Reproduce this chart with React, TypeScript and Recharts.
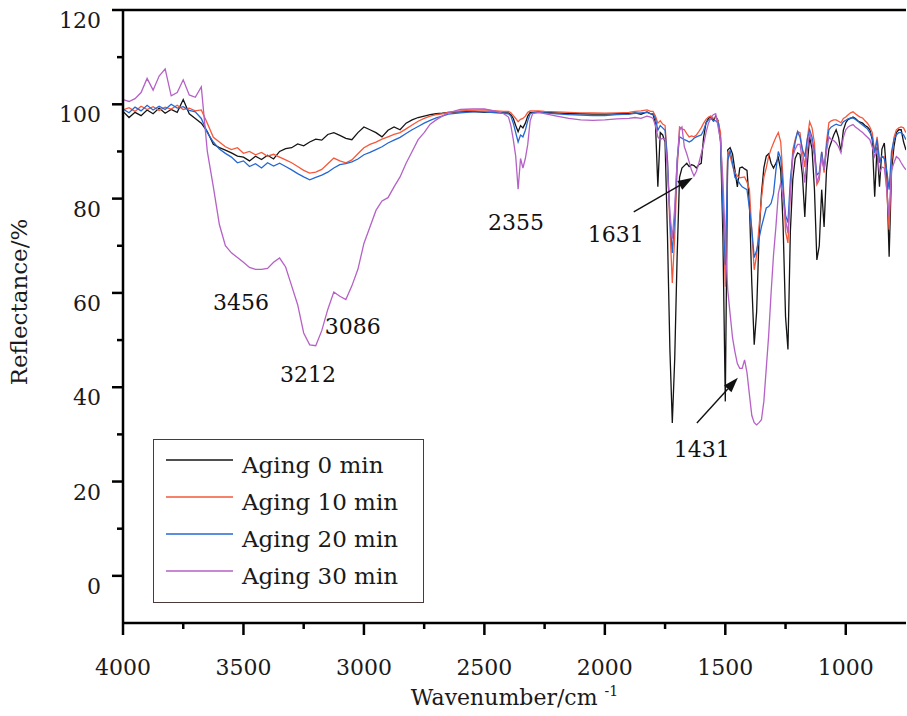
import React from 'react';
import {
  LineChart,
  Line,
  XAxis,
  YAxis,
  Legend,
  ReferenceLine,
  ReferenceDot,
} from 'recharts';

const FONT = "'DejaVu Serif', 'Liberation Serif', serif";

// wavenumber grid (cm-1)
const wavenumbers = [
  4000, 3975, 3950, 3925, 3900, 3875, 3850, 3825, 3800, 3775, 3750, 3725,
  3700, 3675, 3650, 3625, 3600, 3575, 3550, 3525, 3500, 3475, 3450, 3425,
  3400, 3375, 3350, 3325, 3300, 3275, 3250, 3225, 3200, 3175, 3150, 3125,
  3100, 3075, 3050, 3025, 3000, 2975, 2950, 2925, 2900, 2875, 2850, 2825,
  2800, 2775, 2750, 2725, 2700, 2675,
  2650, 2600, 2550, 2500, 2450, 2420,
  2400, 2390, 2380, 2370, 2360, 2350, 2340, 2330, 2320, 2310, 2300,
  2275, 2250, 2200, 2150, 2100, 2050, 2000, 1950, 1900, 1875, 1850, 1825, 1810,
  1800, 1790, 1780, 1770, 1760, 1750, 1740, 1730, 1720, 1710,
  1700, 1690, 1680, 1670, 1660, 1650, 1640, 1630, 1620, 1610,
  1600, 1590, 1580, 1570, 1560, 1550, 1540, 1530, 1520, 1510,
  1500, 1490, 1480, 1470, 1460, 1450, 1440, 1430, 1420, 1410,
  1400, 1390, 1380, 1370, 1360, 1350, 1340, 1330, 1320, 1310,
  1300, 1290, 1280, 1270, 1260, 1250, 1240, 1230, 1220, 1210,
  1200, 1190, 1180, 1170, 1160, 1150, 1140, 1130, 1120, 1110,
  1100, 1090, 1080, 1070, 1060, 1050, 1040, 1030, 1020, 1010,
  1000, 990, 980, 970, 960, 950, 940, 930, 920, 910,
  900, 890, 880, 870, 860, 850, 840, 830, 820, 810,
  800, 790, 780, 770, 760, 750,
];

// reflectance (%) per sample
const aging0 = [
  98.5, 97.2, 98.3, 97.6, 98.8, 98.0, 99.2, 98.1, 98.9, 98.3, 101.0, 98.0,
  97.0, 96.0, 94.2, 91.5, 90.8, 90.3, 89.7, 89.0, 88.8, 88.0, 89.0, 88.3,
  89.2, 88.4, 90.0, 90.6, 90.8, 91.6, 91.2, 92.0, 92.6, 92.4, 93.6, 94.0,
  93.4, 92.8, 92.5, 94.0, 95.2, 94.6, 94.0, 93.1, 94.5, 95.2, 94.6, 96.0,
  96.7, 97.2, 97.5, 97.8, 98.0, 98.1,
  98.3, 98.4, 98.5, 98.3, 98.4, 98.2,
  98.2, 97.8, 97.0, 95.5, 94.2, 95.5, 95.0, 96.0, 97.5, 98.3, 98.3,
  98.4, 98.3, 98.2, 98.0, 98.0, 97.9, 97.9, 98.0, 98.0, 98.2, 97.9, 98.4, 98.0,
  97.8, 96.0, 82.5, 94.0, 93.5, 92.0, 72.0, 48.0, 32.4, 46.0,
  67.7, 84.5, 86.5, 87.0, 87.5, 86.8, 87.2, 87.0, 86.5, 87.2,
  87.5, 93.0, 96.1, 97.0, 97.4, 96.5, 97.5, 96.5, 93.0, 72.0,
  37.0, 90.3, 90.8, 89.5, 86.0, 82.5, 86.5, 86.7, 86.3, 86.0,
  79.0, 62.0, 49.0, 56.0, 72.0, 81.0, 86.5, 89.0, 89.5, 87.5,
  86.5, 87.5, 88.7, 86.0, 74.0, 55.0, 48.0, 73.0, 84.0, 88.5,
  89.7, 89.4, 85.0, 76.1, 87.0, 93.1, 90.5, 82.0, 67.0, 70.0,
  81.9, 74.0, 86.0, 90.5, 92.0, 93.5, 94.6, 93.0, 89.9, 94.5,
  96.1, 96.8, 97.0, 97.3, 97.0, 96.5, 96.2, 96.0, 95.5, 95.2,
  94.6, 92.5, 80.4, 91.0, 82.5, 90.5, 91.8, 85.0, 67.7, 86.0,
  91.0, 94.0, 94.6, 94.6, 92.0, 90.3,
];

const aging10 = [
  98.8, 99.3, 98.5, 99.6, 98.9, 99.5, 98.7, 99.4, 99.0, 99.8, 98.9, 99.2,
  98.6, 98.8, 96.0, 93.0, 92.0, 91.0, 90.4, 90.8, 89.6, 90.0, 89.3, 89.8,
  89.0, 89.4, 88.8, 88.2, 87.6, 86.8, 86.0, 85.4, 85.6, 86.2, 87.4, 88.6,
  88.0, 87.6, 88.2, 89.5, 90.8, 91.5, 92.0, 92.6, 93.1, 93.6, 94.0, 94.8,
  95.6, 96.4, 97.0, 97.5, 97.8, 98.0,
  98.3, 98.6, 98.7, 98.8, 98.6, 98.5,
  98.5, 98.2, 97.6, 97.0, 96.3, 96.8, 97.0, 97.5, 98.3, 98.6, 98.6,
  98.6, 98.5, 98.4, 98.3, 98.2, 98.2, 98.1, 98.2, 98.3, 98.5, 98.6, 98.8, 98.5,
  98.5, 97.5, 96.0, 96.5, 95.8, 95.5, 88.0, 74.0, 62.1, 72.0,
  86.0, 95.2, 94.8, 94.6, 93.8, 93.1, 93.3, 93.1, 93.5, 94.2,
  95.0, 96.0, 96.8, 97.3, 97.5, 97.0, 97.3, 96.5, 94.0, 80.0,
  61.3, 90.0, 89.0, 87.0, 85.5, 84.8, 84.4, 84.5, 84.6, 83.5,
  82.0, 73.0, 64.9, 68.0, 74.0, 80.0, 84.5, 86.5, 89.0, 90.5,
  91.8, 93.0, 94.0, 92.0, 84.0, 73.0, 70.6, 82.0, 90.3, 92.5,
  94.2, 94.0, 90.0, 86.7, 92.5, 96.3, 95.0, 91.8, 83.0, 84.0,
  89.9, 85.5, 92.0, 96.1, 96.5, 96.7, 96.7, 96.4, 96.1, 97.0,
  97.3, 97.8, 98.2, 98.4, 98.0, 97.6, 97.3, 97.1, 96.5, 96.0,
  95.2, 94.0, 89.7, 93.1, 88.2, 88.9, 88.9, 82.0, 73.4, 88.0,
  93.0, 94.6, 95.0, 95.2, 95.0, 94.0,
];

const aging20 = [
  99.0, 98.2, 99.4, 98.6, 99.8, 98.8, 99.6, 98.9, 100.0, 99.2, 99.5, 98.7,
  98.4, 97.0, 94.0, 92.0, 90.5, 89.6, 88.8, 87.6, 88.0, 86.8, 87.4, 86.5,
  87.6, 86.9, 87.5, 86.8, 86.1, 85.3, 84.6, 84.0, 84.5, 85.0, 85.6, 86.5,
  87.2, 87.4, 87.8, 88.4, 89.3, 89.8, 90.4, 91.0, 91.8, 92.4, 93.0, 93.8,
  94.6, 95.3, 96.0, 96.6, 97.1, 97.5,
  97.9, 98.2, 98.4, 98.4, 98.2, 98.1,
  98.0, 97.5, 96.0, 94.0, 92.0, 93.5, 93.1, 94.5, 96.5, 98.0, 98.2,
  98.3, 98.2, 98.0, 97.8, 97.7, 97.6, 97.6, 97.8, 97.9, 98.1, 98.2, 98.3, 98.0,
  98.0, 97.0, 94.5, 95.5, 95.0, 94.5, 88.0, 76.0, 68.5, 76.0,
  88.0, 93.1, 92.8, 92.5, 92.3, 92.0, 92.3, 92.8, 93.1, 93.3,
  93.5, 94.5, 96.0, 96.7, 97.0, 96.6, 96.5, 96.1, 92.0, 78.0,
  66.0, 88.0, 90.3, 87.5, 84.5, 84.0, 83.2, 82.5, 82.2, 81.9,
  78.0, 73.4, 67.5, 69.0, 71.5, 74.0, 76.0, 78.0, 78.3, 79.0,
  81.0, 86.0, 90.0, 88.5, 82.0, 76.5, 74.9, 84.0, 88.9, 92.0,
  94.2, 93.0, 90.5, 88.9, 92.5, 94.6, 93.0, 89.7, 85.0, 85.5,
  89.9, 86.1, 91.0, 94.6, 95.2, 95.5, 95.8, 95.6, 95.5, 96.3,
  96.6, 96.9, 97.1, 97.1, 96.8, 96.4, 96.0, 95.6, 95.2, 94.8,
  94.0, 93.0, 89.7, 92.5, 87.6, 89.0, 88.5, 86.0, 81.9, 90.0,
  92.5, 93.5, 94.0, 94.0, 93.5, 92.5,
];

const aging30 = [
  101.0, 100.6, 101.2, 102.5, 105.5, 103.0, 106.0, 107.5, 101.8, 102.5, 105.2, 102.0,
  101.5, 103.7, 90.0, 82.5, 74.5, 70.0, 68.5, 67.5, 66.5, 65.4, 65.0, 65.0,
  65.2, 66.5, 67.4, 65.5, 61.5, 57.5, 51.5, 49.0, 48.8, 52.0, 56.5, 60.2,
  59.3, 58.6, 61.5, 65.0, 70.5, 74.0, 77.5, 79.5, 80.2, 82.5, 84.6, 87.5,
  90.0, 92.5, 94.0, 95.8, 96.7, 97.5,
  98.2, 98.9, 99.0, 99.0, 98.5, 98.0,
  97.3, 95.5, 92.5, 89.0, 82.0, 88.5, 86.5, 88.5, 91.5, 96.5, 98.0,
  98.3, 98.0, 97.5, 97.0, 96.7, 96.6, 96.7, 96.9, 97.0, 97.2, 97.0, 97.5, 97.3,
  97.0, 95.5, 93.1, 92.5, 92.8, 92.5, 86.0, 77.0, 71.5, 78.0,
  88.0, 94.5, 95.2, 91.0, 89.5, 87.8, 86.0, 84.8, 85.8, 87.5,
  89.5, 91.5, 94.0, 96.0, 97.1, 97.8, 98.0, 95.2, 92.5, 84.0,
  71.0, 60.7, 55.5, 50.5, 47.5, 45.0, 44.0, 44.0, 45.8, 43.1,
  38.5, 34.0, 32.5, 32.0, 32.5, 33.1, 37.0, 44.0, 51.0, 60.0,
  68.0, 74.0, 81.0, 83.4, 80.0, 75.5, 72.7, 81.0, 88.9, 90.5,
  91.5, 91.5, 88.0, 83.4, 90.0, 94.0, 92.0, 88.9, 83.4, 85.0,
  88.9, 86.1, 90.0, 93.1, 92.5, 92.3, 91.8, 91.0, 89.7, 93.0,
  94.6, 95.2, 95.5, 95.7, 95.2, 94.8, 94.4, 94.0, 93.5, 93.0,
  92.5, 91.0, 88.9, 90.3, 85.5, 86.7, 86.5, 82.0, 76.1, 86.0,
  87.6, 88.9, 88.5, 87.6, 86.8, 86.1,
];

const xTicks = [4000, 3750, 3500, 3250, 3000, 2750, 2500, 2250, 2000, 1750, 1500, 1250, 1000];
const yTicks = [0, 10, 20, 30, 40, 50, 60, 70, 80, 90, 100, 110, 120];

const series = [
  { key: 'aging0', name: 'Aging 0 min', color: '#141414' },
  { key: 'aging10', name: 'Aging 10 min', color: '#f5583a' },
  { key: 'aging20', name: 'Aging 20 min', color: '#2468d4' },
  { key: 'aging30', name: 'Aging 30 min', color: '#b561c6' },
];

// peak annotations (text centre in data units)
const peakLabels = [
  { text: '3456', wn: 3510, value: 57.7 },
  { text: '3086', wn: 3046, value: 52.6 },
  { text: '3212', wn: 3232, value: 42.4 },
  { text: '2355', wn: 2369, value: 74.7 },
  { text: '1631', wn: 1955, value: 72.1 },
  { text: '1431', wn: 1598, value: 26.5 },
];

const arrows = [
  { fromWn: 1880, fromValue: 77.2, toWn: 1635, toValue: 84.4 },
  { fromWn: 1618, fromValue: 32.4, toWn: 1448, toValue: 42.0 },
];

const chartData = wavenumbers.map((wn, i) => ({
  wn,
  aging0: aging0[i],
  aging10: aging10[i],
  aging20: aging20[i],
  aging30: aging30[i],
}));

const XTick = (props: any) => {
  const { x, y, payload } = props;
  const major = payload.value % 500 === 0;
  return (
    <g>
      <line x1={x} x2={x} y1={y} y2={y + (major ? 12 : 6)} stroke="#000" strokeWidth={2.5} />
      {major && (
        <text x={x} y={y + 52} textAnchor="middle" fontFamily={FONT} fontSize={22} fill="#1a1a1a">
          {payload.value}
        </text>
      )}
    </g>
  );
};

const YTick = (props: any) => {
  const { x, y, payload } = props;
  const major = payload.value % 20 === 0;
  return (
    <g>
      <line x1={x - (major ? 11 : 6)} x2={x} y1={y} y2={y} stroke="#000" strokeWidth={2.5} />
      {major && (
        <text x={x - 22} y={y + 18} textAnchor="end" fontFamily={FONT} fontSize={22} fill="#1a1a1a">
          {payload.value}
        </text>
      )}
    </g>
  );
};

const Arrow = (props: any) => {
  const { x1, y1, x2, y2 } = props;
  const ang = Math.atan2(y2 - y1, x2 - x1);
  const len = 15;
  const half = 5;
  const bx = x2 - len * Math.cos(ang);
  const by = y2 - len * Math.sin(ang);
  const pts = [
    `${x2},${y2}`,
    `${bx + half * Math.sin(ang)},${by - half * Math.cos(ang)}`,
    `${bx - half * Math.sin(ang)},${by + half * Math.cos(ang)}`,
  ].join(' ');
  return (
    <g>
      <line x1={x1} y1={y1} x2={bx} y2={by} stroke="#111" strokeWidth={1.4} />
      <polygon points={pts} fill="#111" />
    </g>
  );
};

const PeakText = (text: string) => (props: any) => (
  <text
    x={props.cx}
    y={props.cy}
    textAnchor="middle"
    dominantBaseline="middle"
    fontFamily={FONT}
    fontSize={22}
    fill="#111"
  >
    {text}
  </text>
);

const LegendBox = () => (
  <div
    style={{
      width: 271,
      height: 164,
      border: '1.5px solid #4a3a3a',
      boxSizing: 'border-box',
      background: '#fff',
    }}
  >
    <svg width={268} height={161}>
      {series.map((s, i) => (
        <g key={s.key}>
          <line x1={12} x2={79} y1={20 + i * 37} y2={20 + i * 37} stroke={s.color} strokeWidth={1.6} />
          <text x={88} y={33 + i * 37} fontFamily={FONT} fontSize={23} fill="#1a1a1a">
            {s.name}
          </text>
        </g>
      ))}
    </svg>
  </div>
);

export default function App() {
  return (
    <div style={{ position: 'absolute', left: 0, top: 0, width: 907, height: 716, background: '#fff' }}>
      <LineChart
        width={907}
        height={716}
        data={chartData}
        margin={{ top: 10, right: 1, bottom: 0, left: 0 }}
      >
        <XAxis
          dataKey="wn"
          type="number"
          domain={[750, 4000]}
          reversed
          allowDataOverflow
          ticks={xTicks}
          interval={0}
          height={93}
          tickSize={0}
          tickMargin={0}
          tickLine={false}
          tick={XTick}
          axisLine={{ stroke: '#000', strokeWidth: 2.5 }}
        />
        <YAxis
          type="number"
          domain={[-10, 120]}
          allowDataOverflow
          ticks={yTicks}
          interval={0}
          width={123}
          tickSize={0}
          tickMargin={0}
          tickLine={false}
          tick={YTick}
          axisLine={{ stroke: '#000', strokeWidth: 2.5 }}
        />
        <ReferenceLine y={120} stroke="#000" strokeWidth={2.5} />
        {series.map((s) => (
          <Line
            key={s.key}
            type="linear"
            dataKey={s.key}
            name={s.name}
            stroke={s.color}
            strokeWidth={1.3}
            dot={false}
            activeDot={false}
            isAnimationActive={false}
          />
        ))}
        {arrows.map((a, i) => (
          <ReferenceLine
            key={`arrow-${i}`}
            segment={[
              { x: a.fromWn, y: a.fromValue },
              { x: a.toWn, y: a.toValue },
            ]}
            shape={Arrow}
          />
        ))}
        {peakLabels.map((p) => (
          <ReferenceDot key={p.text} x={p.wn} y={p.value} r={1} shape={PeakText(p.text)} />
        ))}
        <Legend
          layout="vertical"
          align="center"
          verticalAlign="middle"
          wrapperStyle={{ left: 153, top: 439, width: 271, height: 164 }}
          content={LegendBox}
        />
      </LineChart>
      <div
        style={{
          position: 'absolute',
          left: 123,
          width: 783,
          top: 684,
          textAlign: 'center',
          fontFamily: FONT,
          fontSize: 22,
          lineHeight: '28px',
          color: '#1a1a1a',
          whiteSpace: 'nowrap',
        }}
      >
        Wavenumber/cm <span style={{ fontSize: 14, verticalAlign: 'top', lineHeight: '14px' }}>-1</span>
      </div>
      <div
        style={{
          position: 'absolute',
          left: 19,
          top: 302,
          transform: 'translate(-50%, -50%) rotate(-90deg)',
          fontFamily: FONT,
          fontSize: 23,
          lineHeight: '28px',
          color: '#1a1a1a',
          whiteSpace: 'nowrap',
        }}
      >
        Reflectance/%
      </div>
    </div>
  );
}
